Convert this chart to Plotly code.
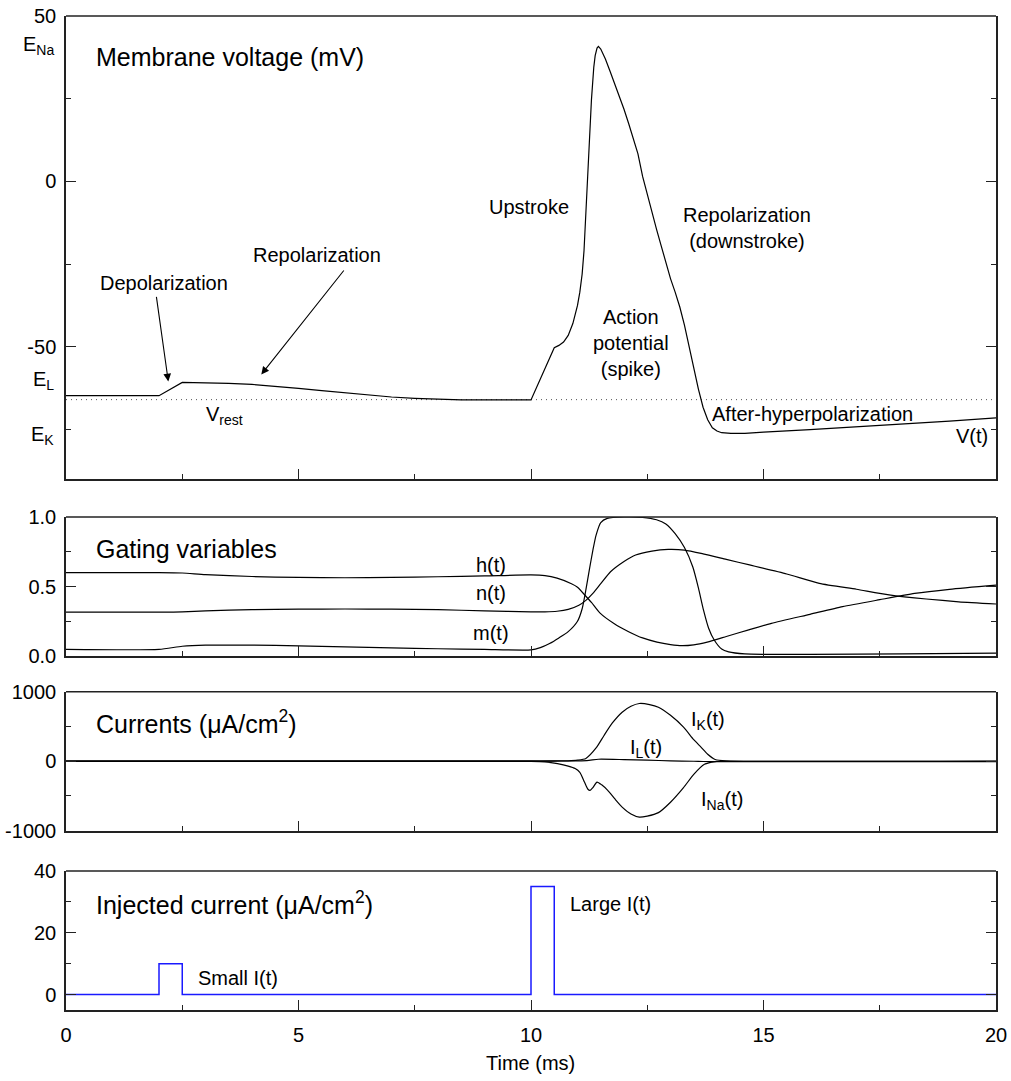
import plotly.graph_objects as go

# ---------------- DATA ----------------
# Membrane voltage V(t) (mV)
t_v = [0, 2.0, 2.5, 3.0, 3.5, 4.0, 4.5, 5.0, 5.5, 6.0, 6.5, 7.0, 7.5, 8.0, 8.5, 9.0, 9.5, 10.0,
       10.5, 10.6, 10.7, 10.8, 10.9, 11.0, 11.05, 11.1, 11.14, 11.19, 11.25, 11.3, 11.35, 11.38,
       11.42, 11.45, 11.5, 11.6, 11.7, 11.8, 11.9, 12.0, 12.1, 12.2, 12.3, 12.4, 12.5, 12.6, 12.7,
       12.8, 12.9, 13.0, 13.1, 13.2, 13.3, 13.4, 13.5, 13.6, 13.7, 13.8, 13.9, 14.0, 14.1, 14.3,
       14.6, 15.0, 16.0, 17.0, 18.0, 19.0, 20.0]
v_mem = [-64.8, -64.8, -60.8, -60.9, -61.1, -61.4, -61.9, -62.6, -63.3, -64.0, -64.6, -65.2, -65.6,
         -65.9, -66.1, -66.1, -66.1, -66.1,
         -50.3, -49.6, -48.6, -46.6, -43.0, -37.5, -33.5, -28.0, -21.0, -5.5, 11.0, 24.7, 34.5, 38.0,
         40.3, 40.8, 40.0, 37.0, 33.3, 29.5, 25.8, 21.8, 17.5, 13.0, 8.3, 1.5, -4.0, -9.5, -14.5,
         -19.5, -24.5, -29.4, -33.5, -38.0, -43.5, -50.2, -57.0, -62.8, -68.3, -72.1, -74.5, -75.5,
         -76.0, -76.2, -76.2, -75.8, -75.1, -74.3, -73.4, -72.5, -71.5]
V_REST = -66.0

# Gating variables
t_h = [0, 2, 2.5, 3, 4, 5, 6, 7, 8, 9, 10, 10.3, 10.56, 10.87, 11.0, 11.18, 11.3, 11.48, 11.8, 12.1,
       12.4, 12.71, 13.0, 13.25, 13.5, 13.79, 14.2, 14.7, 15.17, 16, 16.7, 17.5, 18.25, 19, 20]
h_gate = [0.60, 0.60, 0.597, 0.585, 0.572, 0.565, 0.563, 0.565, 0.57, 0.576, 0.583, 0.578, 0.56, 0.52,
          0.495, 0.43, 0.385, 0.31, 0.23, 0.175, 0.13, 0.10, 0.082, 0.074, 0.08, 0.10, 0.14, 0.19,
          0.235, 0.30, 0.355, 0.405, 0.45, 0.48, 0.51]

t_n = [0, 2, 2.5, 3, 4, 5, 6, 7, 8, 9, 10, 10.3, 10.56, 10.8, 11.03, 11.18, 11.33, 11.5, 11.71, 12.0,
       12.25, 12.6, 12.95, 13.3, 13.7, 14.2, 14.7, 15.5, 16.2, 17, 17.7, 18.5, 19.2, 20]
n_gate = [0.316, 0.316, 0.318, 0.325, 0.333, 0.337, 0.338, 0.337, 0.333, 0.325, 0.318, 0.318, 0.322,
          0.335, 0.365, 0.40, 0.45, 0.52, 0.606, 0.68, 0.727, 0.755, 0.767, 0.762, 0.735, 0.695,
          0.655, 0.59, 0.523, 0.48, 0.44, 0.41, 0.39, 0.374]

t_m = [0, 2, 2.5, 3, 4, 5, 6, 7, 8, 9, 10, 10.2, 10.4, 10.6, 10.8, 11.0, 11.1, 11.18, 11.26, 11.33,
       11.4, 11.5, 11.64, 12.0, 12.4, 12.7, 12.9, 13.1, 13.3, 13.48, 13.6, 13.71, 13.82, 13.94,
       14.1, 14.25, 14.6, 15, 16, 18, 20]
m_gate = [0.048, 0.048, 0.07, 0.078, 0.078, 0.073, 0.066, 0.058, 0.052, 0.047, 0.044, 0.06, 0.09,
          0.13, 0.175, 0.25, 0.34, 0.475, 0.63, 0.76, 0.87, 0.96, 0.99, 1.0, 0.997, 0.98, 0.95, 0.88,
          0.78, 0.64, 0.49, 0.33, 0.2, 0.115, 0.05, 0.03, 0.015, 0.012, 0.012, 0.015, 0.02]

# Ionic currents (uA/cm^2)
t_ik = [0, 10, 10.8, 11.0, 11.18, 11.4, 11.57, 11.75, 11.96, 12.15, 12.33, 12.55, 12.74, 13.0,
        13.28, 13.5, 13.66, 13.8, 13.96, 14.2, 20]
i_k = [4, 4, 6, 15, 40, 190, 370, 550, 705, 790, 830, 815, 777, 660, 490, 310, 200, 100, 25, 5, 3]

t_ina = [0, 10, 10.3, 10.57, 10.8, 10.95, 11.05, 11.15, 11.22, 11.27, 11.33, 11.42, 11.52, 11.65,
         11.8, 11.96, 12.15, 12.33, 12.5, 12.74, 13.0, 13.28, 13.5, 13.73, 13.96, 14.5, 20]
i_na = [-3, -3, -10, -35, -70, -105, -160, -300, -400, -420, -380, -300, -340, -420, -540, -660,
        -760, -805, -790, -740, -590, -380, -190, -45, -5, -1, -1]

t_il = [0, 10, 10.5, 11.2, 11.45, 12.0, 12.5, 13.0, 13.5, 13.7, 14.0, 20]
i_l = [-3, -3, 1.5, 9, 28, 23, 15, 5, -1, -4, -6.5, -5]

# Injected current steps
t_inj = [0, 2.0, 2.5, 10.0, 10.5, 20.0]
i_inj = [0, 10, 0, 35, 0, 0]

# Tick labels
v_ticks = [-50, 0, 50]
v_ticktext = ["-50", "0", "50"]
g_ticks = [0.0, 0.5, 1.0]
g_ticktext = ["0.0", "0.5", "1.0"]
c_ticks = [-1000, 0, 1000]
c_ticktext = ["-1000", "0", "1000"]
inj_ticks = [0, 20, 40]
inj_ticktext = ["0", "20", "40"]
t_ticks = [0, 5, 10, 15, 20]
t_ticktext = ["0", "5", "10", "15", "20"]

# ---------------- LAYOUT ----------------
W, H = 1011, 1081
ML, MR, MT, MB = 66, 15, 16, 71
PH = H - MT - MB
FONT = "Arial, Liberation Sans, sans-serif"
FS = 20      # annotation / tick font size
FT = 25      # panel title font size


def ydom(top_px, bot_px):
    return [1 - (bot_px - MT) / PH, 1 - (top_px - MT) / PH]


panels = [(16, 479), (517, 656), (691.7, 830.7), (871, 1010)]

LINE = dict(color="black", width=1.2)
SPL = dict(color="black", width=1.2, shape="spline", smoothing=0.6)
fig = go.Figure()
fig.add_trace(go.Scatter(x=t_v, y=v_mem, mode="lines", line=LINE, xaxis="x", yaxis="y"))
fig.add_trace(go.Scatter(x=t_h, y=h_gate, mode="lines", line=SPL, xaxis="x2", yaxis="y2"))
fig.add_trace(go.Scatter(x=t_n, y=n_gate, mode="lines", line=SPL, xaxis="x2", yaxis="y2"))
fig.add_trace(go.Scatter(x=t_m, y=m_gate, mode="lines", line=SPL, xaxis="x2", yaxis="y2"))
fig.add_trace(go.Scatter(x=t_ik, y=i_k, mode="lines", line=SPL, xaxis="x3", yaxis="y3"))
fig.add_trace(go.Scatter(x=t_ina, y=i_na, mode="lines", line=SPL, xaxis="x3", yaxis="y3"))
fig.add_trace(go.Scatter(x=t_il, y=i_l, mode="lines", line=SPL, xaxis="x3", yaxis="y3"))
fig.add_trace(go.Scatter(x=t_inj, y=i_inj, mode="lines", line=dict(color="#1a1aff", width=1.5, shape="hv"),
                         xaxis="x4", yaxis="y4"))

AXC = "#222222"
common = dict(showline=True, linecolor=AXC, linewidth=1.5, ticks="inside", ticklen=10, tickwidth=1.2,
              tickcolor=AXC, showgrid=False, zeroline=False, automargin=False,
              tickfont=dict(size=FS, color="black", family=FONT))

layout = dict(width=W, height=H, margin=dict(l=ML, r=MR, t=MT, b=MB, autoexpand=False),
              paper_bgcolor="white", plot_bgcolor="white", showlegend=False,
              font=dict(family=FONT, size=FS, color="black"))

yspecs = [
    ([-90, 50], v_ticks, v_ticktext, [-75, -25, 25]),
    ([0, 1], g_ticks, g_ticktext, [0.25, 0.75]),
    ([-1000, 1000], c_ticks, c_ticktext, [-500, 500]),
    ([-5, 40], inj_ticks, inj_ticktext, [10, 30]),
]

shapes = []
for i, ((top, bot), (rng, tv, tt, mv)) in enumerate(zip(panels, yspecs)):
    k = "" if i == 0 else str(i + 1)
    layout["xaxis" + k] = dict(common, domain=[0, 1], range=[0, 20], anchor="y" + k,
                               tickmode="array", tickvals=t_ticks, ticktext=t_ticktext,
                               showticklabels=(i == 3), ticklabelstandoff=6, mirror=False,
                               minor=dict(ticks="inside", ticklen=5, tickwidth=1.2, tickcolor=AXC,
                                          tickmode="linear", tick0=0, dtick=2.5, showgrid=False))
    layout["yaxis" + k] = dict(common, domain=ydom(top, bot), range=rng, anchor="x" + k,
                               tickmode="array", tickvals=tv, ticktext=tt, mirror="ticks",
                               ticklabelstandoff=4,
                               minor=dict(ticks="inside", ticklen=5, tickwidth=1.2, tickcolor=AXC,
                                          tickmode="array", tickvals=mv, showgrid=False))
    shapes.append(dict(type="line", xref="x" + k + " domain", yref="y" + k + " domain",
                       x0=0, x1=1, y0=1, y1=1, line=dict(color=AXC, width=1.5)))

shapes.append(dict(type="line", xref="x", yref="y", x0=0, x1=20, y0=V_REST, y1=V_REST,
                   line=dict(color="#555555", width=1, dash="1px,4px"), layer="below"))
layout["shapes"] = shapes

anns = []


def txt(text, x, y, k="", size=FS, xanchor="center", xref=None, yanchor="middle"):
    anns.append(dict(text=text, x=x, y=y, xref=xref or ("x" + k), yref="y" + k, showarrow=False,
                     xanchor=xanchor, yanchor=yanchor, font=dict(size=size, family=FONT, color="black")))


# Panel 1
txt("Membrane voltage (mV)", 0.6, 37.5, size=FT, xanchor="left")
txt("Depolarization", 2.11, -30.6)
txt("Repolarization", 5.4, -22.2)
txt("Upstroke", 9.95, -7.7)
txt("Repolarization<br>(downstroke)", 14.64, -14.0)
txt("Action<br>potential<br>(spike)", 12.16, -48.8)
txt("After-hyperpolarization", 16.06, -70.3)
txt("V(t)", 19.48, -76.9)
txt("V<sub>rest</sub>", 3.4, -70.8)
txt("E<sub>Na</sub>", -0.011, 41.0, xanchor="right", xref="paper")
txt("E<sub>L</sub>", -0.011, -60.2, xanchor="right", xref="paper")
txt("E<sub>K</sub>", -0.011, -76.9, xanchor="right", xref="paper")

for (tx, ty, hx, hy) in [(1.94, -34.5, 2.2, -60.5), (6.0, -26.5, 4.2, -58.4)]:
    anns.append(dict(x=hx, y=hy, ax=tx, ay=ty, xref="x", yref="y", axref="x", ayref="y",
                     showarrow=True, arrowhead=2, arrowsize=1.4, arrowwidth=1.1, arrowcolor="black",
                     text=""))

# Panel 2
txt("Gating variables", 0.6, 0.77, k="2", size=FT, xanchor="left")
txt("h(t)", 9.13, 0.655, k="2")
txt("n(t)", 9.13, 0.453, k="2")
txt("m(t)", 9.13, 0.165, k="2")

# Panel 3
txt("Currents (\u03bcA/cm<sup>2</sup>)", 0.6, 557, k="3", size=FT, xanchor="left")
txt("I<sub>K</sub>(t)", 13.8, 586, k="3")
txt("I<sub>L</sub>(t)", 12.47, 183, k="3")
txt("I<sub>Na</sub>(t)", 14.1, -565, k="3")

# Panel 4
txt("Injected current (\u03bcA/cm<sup>2</sup>)", 0.6, 29.5, k="4", size=FT, xanchor="left")
txt("Large I(t)", 10.79, 29.4, k="4", xanchor="left")
txt("Small I(t)", 2.8, 5.5, k="4", xanchor="left")

anns.append(dict(text="Time (ms)", x=(530 - ML) / (W - ML - MR), y=1 - (1063 - MT) / PH,
                 xref="paper", yref="paper", showarrow=False, xanchor="center", yanchor="middle",
                 font=dict(size=FS, family=FONT, color="black")))
layout["annotations"] = anns

fig.update_layout(**layout)
fig.write_html("out.html", config={"displayModeBar": False},
               post_script="document.body.style.margin='0';document.body.style.overflow='hidden';")
